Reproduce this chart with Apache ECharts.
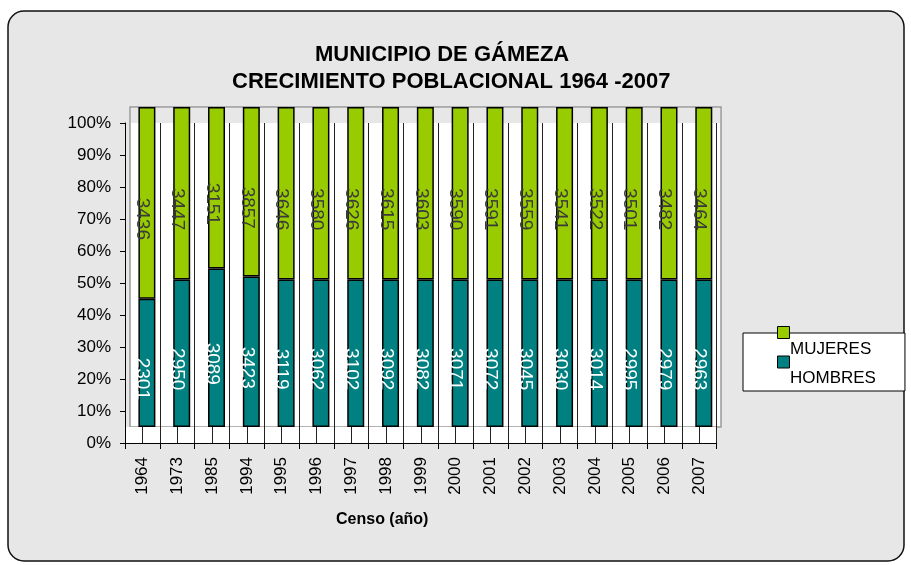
<!DOCTYPE html>
<html>
<head>
<meta charset="utf-8">
<script src="https://cdn.jsdelivr.net/npm/echarts@6/dist/echarts.min.js"></script>
<style>
html,body{margin:0;padding:0;background:#ffffff;}
#chart{width:911px;height:565px;}
</style>
</head>
<body>
<div id="chart"></div>
<script>
const categories = ['1964','1973','1985','1994','1995','1996','1997','1998','1999','2000','2001','2002','2003','2004','2005','2006','2007'];
const mujeres = [3436,3447,3151,3857,3646,3580,3626,3615,3603,3590,3591,3559,3541,3522,3501,3482,3464];
const hombres = [2301,2950,3089,3423,3119,3062,3102,3092,3082,3071,3072,3045,3030,3014,2995,2979,2963];
const seriesNames = ['MUJERES','HOMBRES'];
const titleLines = ['MUNICIPIO DE GÁMEZA','CRECIMIENTO POBLACIONAL 1964 -2007'];
const xAxisTitle = 'Censo (año)';

const hPct = hombres.map((h,i)=> h/(h+mujeres[i])*100);
const mPct = mujeres.map((m,i)=> m/(m+hombres[i])*100);

const FONT = '"Liberation Sans", Arial, sans-serif';
const chart = echarts.init(document.getElementById('chart'), null, {renderer:'canvas'});

const option = {
  animation:false,
  backgroundColor:'#ffffff',
  textStyle:{fontFamily:FONT},
  graphic:[{
    type:'rect', z:-100, silent:true,
    shape:{x:8,y:11,width:896,height:550,r:16},
    style:{fill:'#e7e7e7',stroke:'#111',lineWidth:1.5}
  }],
  title:[
    {text:titleLines[0], left:315, top:44, padding:0,
     textStyle:{fontSize:22,fontWeight:'bold',color:'#000',fontFamily:FONT}},
    {text:titleLines[1], left:232, top:71, padding:0,
     textStyle:{fontSize:22,fontWeight:'bold',color:'#000',fontFamily:FONT}},
    {text:xAxisTitle, left:336, top:512, padding:0,
     textStyle:{fontSize:16,fontWeight:'bold',color:'#000',fontFamily:FONT}}
  ],
  legend:[
    {left:743, top:333, orient:'vertical', data:seriesNames, icon:'none',
     itemWidth:12, itemHeight:20, itemGap:9, padding:[6,29,3,30],
     backgroundColor:'#fff', borderColor:'#000', borderWidth:1,
     itemStyle:{color:'rgba(0,0,0,0)',borderWidth:0},
     textStyle:{fontSize:17,color:'#000',fontFamily:FONT,lineHeight:20},
     selectedMode:false, z:4},
    {left:777, top:326, orient:'vertical', data:seriesNames, icon:'rect',
     itemWidth:12, itemHeight:12, itemGap:16.5, padding:0,
     formatter:()=>'', itemStyle:{borderColor:'#000',borderWidth:1},
     selectedMode:false, z:6}
  ],
  grid:[
    {left:125, right:194.3, top:123, bottom:122},
    {left:129.5, right:189.8, top:107, bottom:138},
    {left:125, right:194.3, top:427, bottom:122, show:true, backgroundColor:'#fff', borderWidth:0, z:-2},
    {left:130, right:190, top:107, bottom:138, show:true, backgroundColor:'#fff', borderColor:'#999', borderWidth:1.5, z:-3},
    {left:131, right:191, top:108, height:15, show:true, backgroundColor:'#e7e7e7', borderWidth:0, z:-2}
  ],
  xAxis:[
    {gridIndex:0, type:'category', data:categories, boundaryGap:true,
     axisLine:{show:true,lineStyle:{color:'#000',width:1}},
     axisTick:{show:true,length:6,lineStyle:{color:'#000'}},
     axisLabel:{rotate:90,fontSize:17,color:'#000',margin:14,fontFamily:FONT,interval:0},
     splitLine:{show:true,lineStyle:{color:'#222',width:1}}},
    {gridIndex:1, type:'category', data:categories, show:false},
    {gridIndex:2, type:'value', min:0, max:34, interval:1,
     axisLine:{show:false}, axisTick:{show:false}, axisLabel:{show:false},
     splitLine:{show:true,lineStyle:{color:'#222',width:1}}}
  ],
  yAxis:[
    {gridIndex:0, type:'value', min:0, max:100, interval:10,
     axisLine:{show:true,lineStyle:{color:'#000',width:1}},
     axisTick:{show:true,length:5,lineStyle:{color:'#000'}},
     axisLabel:{formatter:'{value}%',fontSize:17,color:'#000',margin:14,fontFamily:FONT},
     splitLine:{show:false}},
    {gridIndex:1, type:'value', min:0, max:100, show:false},
    {gridIndex:2, type:'value', min:0, max:1, show:false}
  ],
  series:[
    {name:'HOMBRES', type:'bar', xAxisIndex:1, yAxisIndex:1, stack:'b', data:hPct, barWidth:17,
     itemStyle:{color:'#008080',borderColor:'#000',borderWidth:1.5}, emphasis:{disabled:true}, silent:true, z:2},
    {name:'MUJERES', type:'bar', xAxisIndex:1, yAxisIndex:1, stack:'b', data:mPct, barWidth:17,
     itemStyle:{color:'#99cc00',borderColor:'#000',borderWidth:1.5}, emphasis:{disabled:true}, silent:true, z:2},
    {name:'lblH', type:'bar', xAxisIndex:0, yAxisIndex:0, stack:'l', data:hPct, barWidth:17,
     itemStyle:{color:'rgba(0,0,0,0)',borderWidth:0}, emphasis:{disabled:true}, silent:true, z:5,
     label:{show:true,position:'inside',rotate:-90,fontSize:19,color:'#ffffff',fontFamily:FONT,
            formatter:p=>String(hombres[p.dataIndex])}},
    {name:'lblM', type:'bar', xAxisIndex:0, yAxisIndex:0, stack:'l', data:mPct, barWidth:17,
     itemStyle:{color:'rgba(0,0,0,0)',borderWidth:0}, emphasis:{disabled:true}, silent:true, z:5,
     label:{show:true,position:'inside',rotate:-90,fontSize:19,color:'#3a3a3a',fontFamily:FONT,
            formatter:p=>String(mujeres[p.dataIndex])}}
  ]
};
chart.setOption(option);
</script>
</body>
</html>
